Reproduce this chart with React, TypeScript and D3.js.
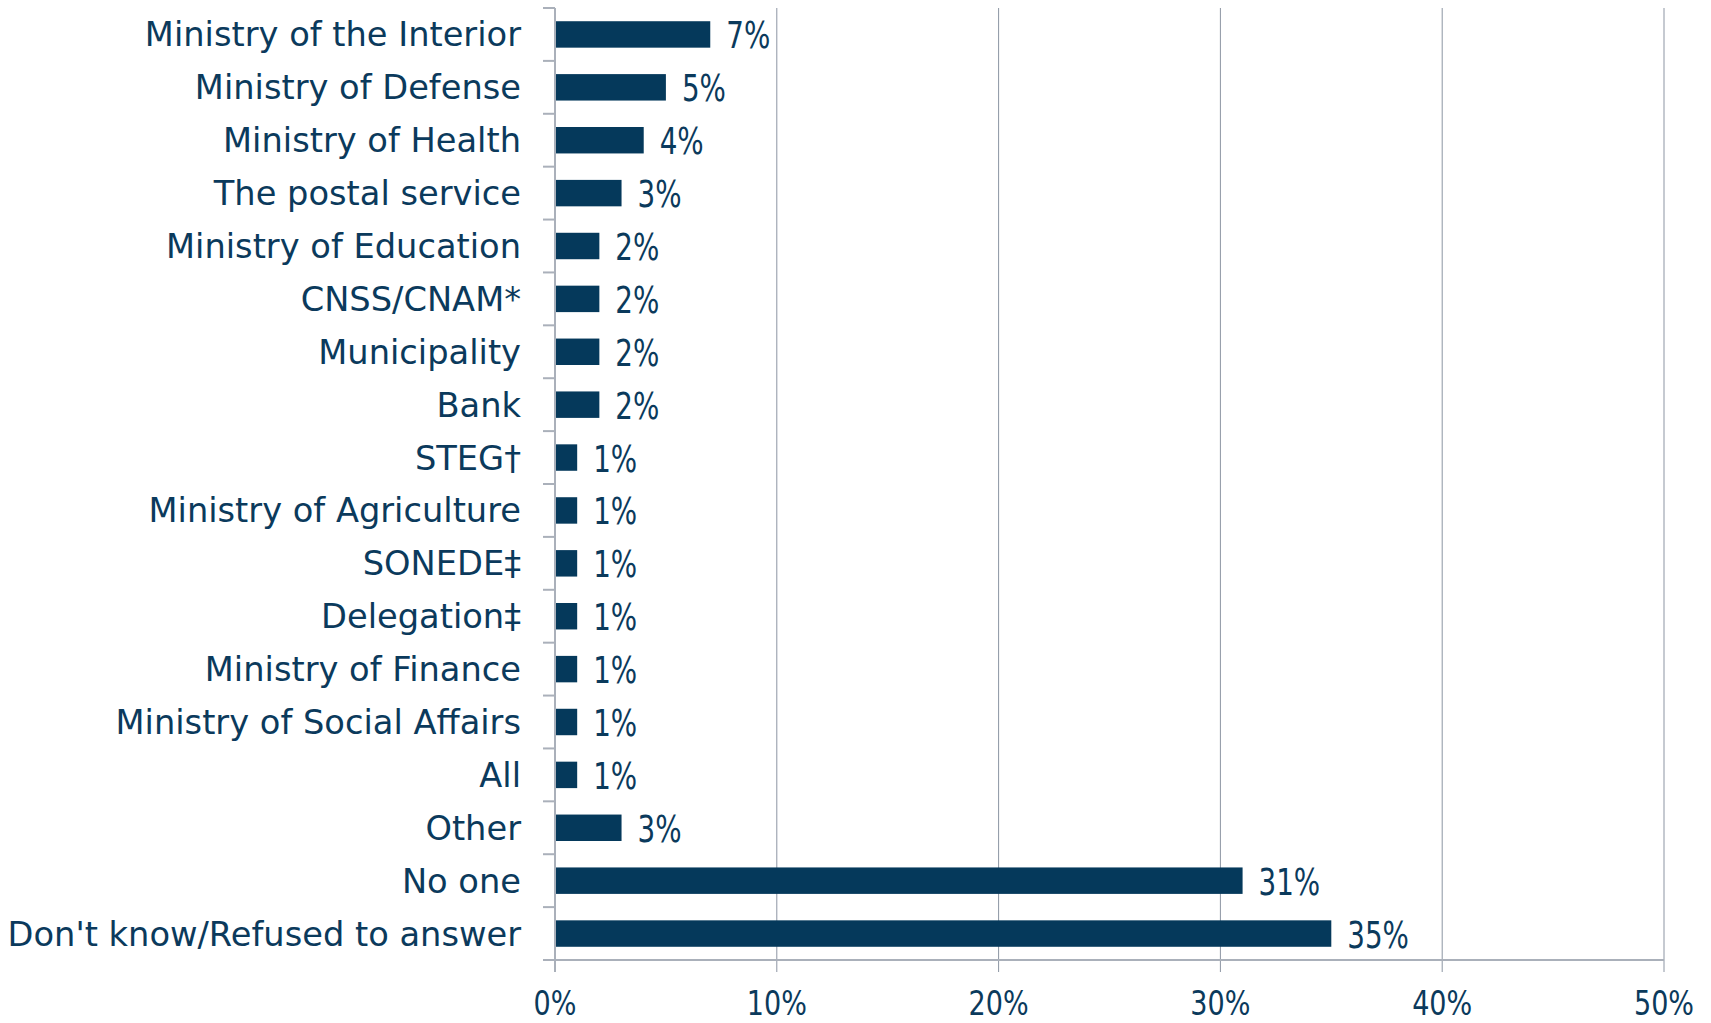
import React from "react";
import * as d3 from "d3";

const categories = [
  "Ministry of the Interior",
  "Ministry of Defense",
  "Ministry of Health",
  "The postal service",
  "Ministry of Education",
  "CNSS/CNAM*",
  "Municipality",
  "Bank",
  "STEG†",
  "Ministry of Agriculture",
  "SONEDE‡",
  "Delegation‡",
  "Ministry of Finance",
  "Ministry of Social Affairs",
  "All",
  "Other",
  "No one",
  "Don't know/Refused to answer",
];
const values = [7, 5, 4, 3, 2, 2, 2, 2, 1, 1, 1, 1, 1, 1, 1, 3, 31, 35];
const xTicks = [0, 10, 20, 30, 40, 50];

const W = 1711;
const H = 1023;
const margin = { left: 555, right: 47, top: 8, bottom: 63 };
const FONT = "'DejaVu Sans', sans-serif";
const TEXT = "#0b3a5c";
const BAR = "#05395b";

export default function App() {
  const x = d3.scaleLinear().domain([0, 50]).range([margin.left, W - margin.right]);
  const y = d3
    .scaleBand<string>()
    .domain(categories)
    .range([margin.top, H - margin.bottom])
    .paddingInner(0.5)
    .paddingOuter(0.25);
  const step = y.step();
  const bottom = H - margin.bottom;
  const bandEdges = categories.map((c) => (y(c) as number) - step * 0.25);

  return (
    <svg
      width={W}
      height={H}
      style={{ position: "absolute", left: 0, top: 0, background: "#fff" }}
      fontFamily={FONT}
    >
      {xTicks.slice(1).map((t) => (
        <line key={"g" + t} x1={x(t)} x2={x(t)} y1={margin.top} y2={bottom + 12} stroke="#8c95a3" strokeWidth={1} />
      ))}
      <line x1={x(0)} x2={x(50)} y1={bottom} y2={bottom} stroke="#aab0ba" strokeWidth={2} />
      <line x1={x(0)} x2={x(0)} y1={bottom} y2={bottom + 12} stroke="#aab0ba" strokeWidth={2} />
      <line x1={x(0)} x2={x(0)} y1={margin.top} y2={bottom} stroke="#aab0ba" strokeWidth={2} />
      {bandEdges.map((e, i) => (
        <line key={"ct" + i} x1={x(0) - 12} x2={x(0)} y1={e} y2={e} stroke="#aab0ba" strokeWidth={2} />
      ))}
      <line x1={x(0) - 12} x2={x(0)} y1={bottom} y2={bottom} stroke="#aab0ba" strokeWidth={2} />
      {categories.map((c, i) => (
        <rect key={"b" + i} x={x(0) + 1} y={y(c)} width={x(values[i]) - x(0) - 1} height={y.bandwidth()} fill={BAR} />
      ))}
      {categories.map((c, i) => (
        <text
          key={"v" + i}
          transform={`translate(${x(values[i]) + 16},${(y(c) as number) + y.bandwidth() / 2 + 14}) scale(0.75,1)`}
          fontSize={37}
          fill={TEXT}
        >
          {values[i]}%
        </text>
      ))}
      {categories.map((c, i) => (
        <text
          key={"c" + i}
          transform={`translate(${x(0) - 34},${(y(c) as number) + y.bandwidth() / 2 + 12}) scale(0.99,1)`}
          fontSize={34}
          fill={TEXT}
          textAnchor="end"
        >
          {c}
        </text>
      ))}
      {xTicks.map((t) => (
        <text
          key={"t" + t}
          transform={`translate(${x(t)},${bottom + 55}) scale(0.82,1)`}
          fontSize={33}
          fill={TEXT}
          textAnchor="middle"
        >
          {t}%
        </text>
      ))}
    </svg>
  );
}
